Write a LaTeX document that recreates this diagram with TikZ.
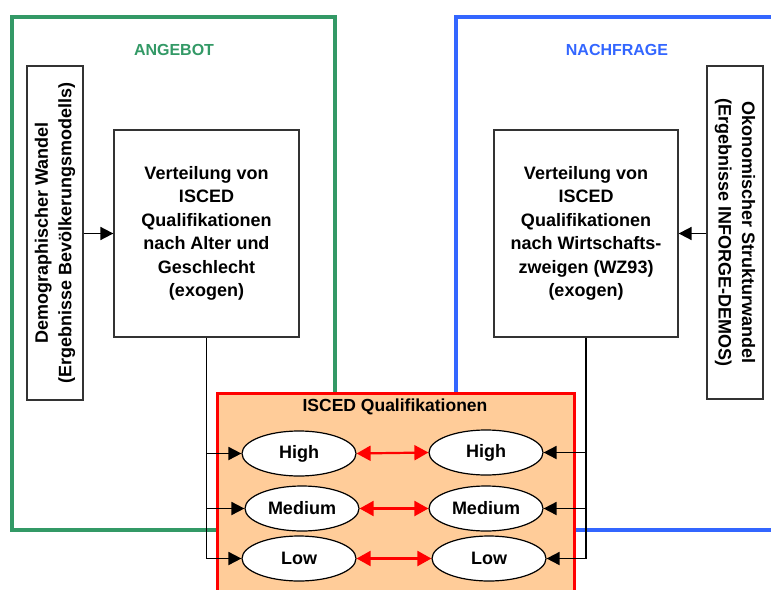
\documentclass[tikz,border=0pt]{standalone}
\usepackage{fontspec}
\setmainfont{Liberation Sans}
\usetikzlibrary{arrows.meta,shapes.geometric}
\definecolor{agreen}{RGB}{51,153,102}
\definecolor{nblue}{RGB}{51,102,255}
\definecolor{peach}{RGB}{255,204,153}
\begin{document}
\begin{tikzpicture}[x=1pt,y=-1pt,
  font=\bfseries\fontsize{18}{23.5}\selectfont,
  txtbox/.style={draw=black!80,line width=1.3pt,fill=white,align=center,inner sep=0pt},
  qual/.style={ellipse,draw=black,line width=1.2pt,fill=white,minimum width=114pt,minimum height=45pt,inner sep=0pt},
  conn/.style={draw=black,line width=1.8pt},
  arr/.style={conn,-{Triangle[length=13pt,width=13pt]}},
  redarr/.style={draw=red,line width=2.2pt,{Triangle[length=14pt,width=15pt]}-{Triangle[length=14pt,width=15pt]}},
  title/.style={font=\bfseries\fontsize{16}{19}\selectfont}
]
\useasboundingbox (0,0) rectangle (771,589);
\clip (0,0) rectangle (771,589);
% outer frames
\draw[agreen,line width=4pt] (12,17) rectangle (335,530);
\draw[nblue,line width=4pt] (456,17) rectangle (800,530);
\node[title,text=agreen] (angebot) at (174,50) {ANGEBOT};
\node[title,text=nblue] (nachfrage) at (617,50) {NACHFRAGE};
% boxes
\node[txtbox,minimum width=185pt,minimum height=207pt] (lbox) at (206.5,233.5)
  {Verteilung von\\ISCED\\Qualifikationen\\nach Alter und\\Geschlecht\\(exogen)};
\node[txtbox,minimum width=184pt,minimum height=207pt] (rbox) at (586,233.5)
  {Verteilung von\\ISCED\\Qualifikationen\\nach Wirtschafts-\\zweigen (WZ93)\\(exogen)};
\node[txtbox,rotate=90,minimum width=334pt,minimum height=56pt] (demo) at (55,233)
  {Demographischer Wandel\\(Ergebnisse Bevölkerungsmodells)};
\node[txtbox,rotate=-90,minimum width=333pt,minimum height=56pt] (oko) at (735,232.5)
  {Okonomischer Strukturwandel\\(Ergebnisse INFORGE-DEMOS)};
% red container
\draw[red,line width=3pt,fill=peach] (217,393) rectangle (574,620);
\node[font=\bfseries\fontsize{17.5}{20}\selectfont] (isced) at (395,407) {ISCED Qualifikationen};
% ellipses
\node[qual] (lHigh) at (299,453.5) {High};
\node[qual] (lMed) at (302,508.5) {Medium};
\node[qual] (lLow) at (299,558.5) {Low};
\node[qual] (rHigh) at (486,452.5) {High};
\node[qual] (rMed) at (486,508.5) {Medium};
\node[qual] (rLow) at (489,558.5) {Low};
% connectors
\draw[arr] (demo.south |- lbox.west) -- (lbox.west);
\draw[arr] (oko.south |- rbox.east) -- (rbox.east);
\draw[arr] (lbox.south) |- (lLow.west);
\draw[arr] (lbox.south |- lHigh.west) -- (lHigh.west);
\draw[arr] (lbox.south |- lMed.west) -- (lMed.west);
\draw[arr] (rbox.south) |- (rLow.east);
\draw[arr] (rbox.south |- rHigh.east) -- (rHigh.east);
\draw[arr] (rbox.south |- rMed.east) -- (rMed.east);
\draw[redarr] (lHigh.east) -- (rHigh.west);
\draw[redarr] (lMed.east) -- (rMed.west);
\draw[redarr] (lLow.east) -- (rLow.west);
\end{tikzpicture}
\end{document}
